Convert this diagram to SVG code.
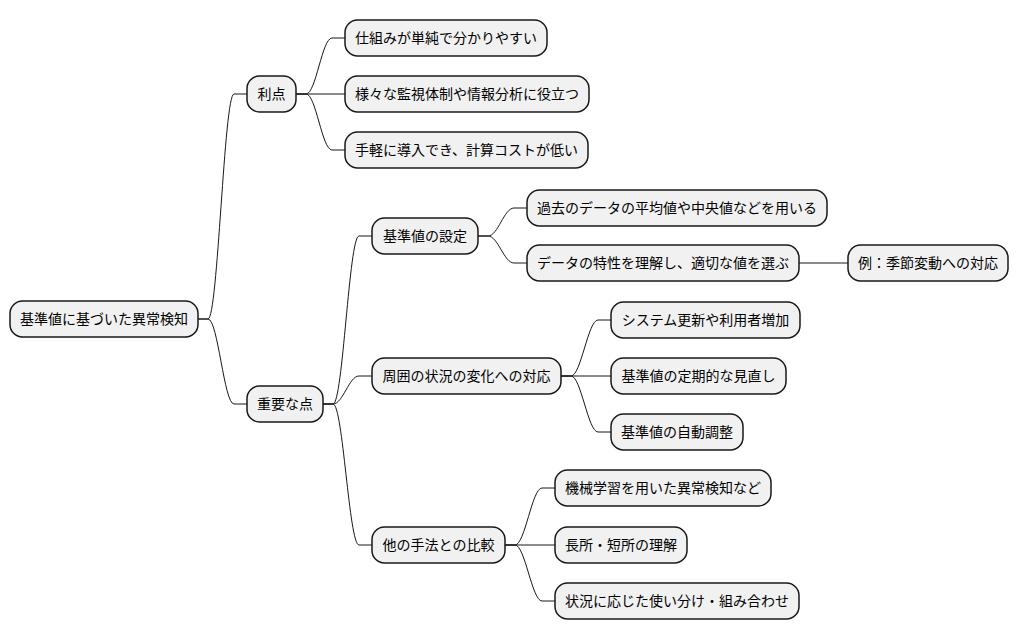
<svg xmlns="http://www.w3.org/2000/svg" width="1020" height="640" viewBox="0 0 1020 640">
<style>
.n rect{fill:#F1F1F1;stroke:#181818;stroke-width:1.5}
.n text{font-family:"Noto Sans CJK JP","Noto Sans",sans-serif;font-size:14px;fill:#000;text-anchor:middle}
.c path{fill:none;stroke:#181818;stroke-width:1}
</style>
<rect width="1020" height="640" fill="#FFFFFF"/>
<g class="c" id="connectors">
<path d="M198,319 H208 C218,319 224,94 234,94 H247"/>
<path d="M198,319 H208 C218,319 224,404 234,404 H247"/>
<path d="M296,94 H306 C316,94 322,38 332,38 H345"/>
<path d="M296,94 H345"/>
<path d="M296,94 H306 C316,94 322,150 332,150 H345"/>
<path d="M323,404 H333 C343,404 349,236 359,236 H372"/>
<path d="M323,404 H333 C343,404 349,376 359,376 H372"/>
<path d="M323,404 H333 C343,404 349,545 359,545 H372"/>
<path d="M478,236 H488 C498,236 504,208 514,208 H527"/>
<path d="M478,236 H488 C498,236 504,263 514,263 H527"/>
<path d="M799,263 H848"/>
<path d="M561,376 H571 C581,376 588,320 598,320 H611"/>
<path d="M561,376 H611"/>
<path d="M561,376 H571 C581,376 588,432 598,432 H611"/>
<path d="M505,545 H515 C525,545 532,488 542,488 H555"/>
<path d="M505,545 H555"/>
<path d="M505,545 H515 C525,545 532,601 542,601 H555"/>
</g>
<g class="n" id="root"><rect x="10" y="301" width="188" height="36" rx="12.5"/><text x="104" y="324">基準値に基づいた異常検知</text></g>
<g class="n" id="riten"><rect x="247" y="76" width="49" height="36" rx="12.5"/><text x="271.5" y="99">利点</text></g>
<g class="n" id="riten1"><rect x="345" y="20" width="202" height="36" rx="12.5"/><text x="446" y="43">仕組みが単純で分かりやすい</text></g>
<g class="n" id="riten2"><rect x="345" y="76" width="244" height="36" rx="12.5"/><text x="467" y="99">様々な監視体制や情報分析に役立つ</text></g>
<g class="n" id="riten3"><rect x="345" y="132" width="243" height="36" rx="12.5"/><text x="466.5" y="155">手軽に導入でき、計算コストが低い</text></g>
<g class="n" id="juyou"><rect x="247" y="386" width="76" height="36" rx="12.5"/><text x="285" y="409">重要な点</text></g>
<g class="n" id="settei"><rect x="372" y="218" width="106" height="36" rx="12.5"/><text x="425" y="241">基準値の設定</text></g>
<g class="n" id="settei1"><rect x="527" y="190" width="300" height="36" rx="12.5"/><text x="677" y="213">過去のデータの平均値や中央値などを用いる</text></g>
<g class="n" id="settei2"><rect x="527" y="245" width="272" height="36" rx="12.5"/><text x="663" y="268">データの特性を理解し、適切な値を選ぶ</text></g>
<g class="n" id="rei"><rect x="848" y="245" width="160" height="36" rx="12.5"/><text x="928" y="268">例：季節変動への対応</text></g>
<g class="n" id="shui"><rect x="372" y="358" width="189" height="36" rx="12.5"/><text x="466.5" y="381">周囲の状況の変化への対応</text></g>
<g class="n" id="shui1"><rect x="611" y="302" width="189" height="36" rx="12.5"/><text x="705.5" y="325">システム更新や利用者増加</text></g>
<g class="n" id="shui2"><rect x="611" y="358" width="175" height="36" rx="12.5"/><text x="698.5" y="381">基準値の定期的な見直し</text></g>
<g class="n" id="shui3"><rect x="611" y="414" width="132" height="36" rx="12.5"/><text x="677" y="437">基準値の自動調整</text></g>
<g class="n" id="hikaku"><rect x="372" y="527" width="133" height="36" rx="12.5"/><text x="438.5" y="550">他の手法との比較</text></g>
<g class="n" id="hikaku1"><rect x="555" y="470" width="216" height="36" rx="12.5"/><text x="663" y="493">機械学習を用いた異常検知など</text></g>
<g class="n" id="hikaku2"><rect x="555" y="527" width="132" height="36" rx="12.5"/><text x="621" y="550">長所・短所の理解</text></g>
<g class="n" id="hikaku3"><rect x="555" y="583" width="244" height="36" rx="12.5"/><text x="677" y="606">状況に応じた使い分け・組み合わせ</text></g>
</svg>
